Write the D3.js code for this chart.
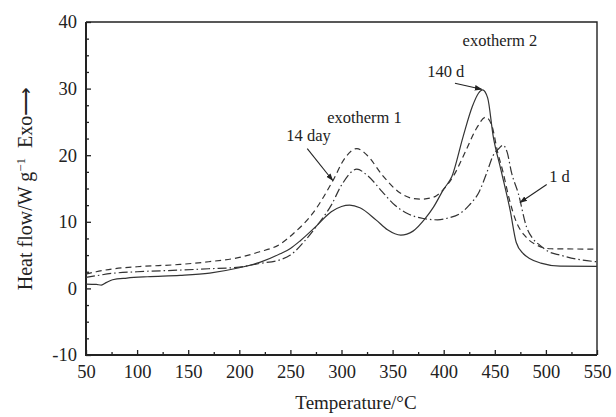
<!DOCTYPE html>
<html>
<head>
<meta charset="utf-8">
<script src="https://cdn.jsdelivr.net/npm/d3@7"></script>
<style>
  body { margin: 0; background: #fff; }
  svg text { font-family: "Liberation Serif", "Times New Roman", serif; fill: #222; }
</style>
</head>
<body>
<div id="chart"></div>
<script>
// ---- data ----
const xTicks = [50, 100, 150, 200, 250, 300, 350, 400, 450, 500, 550];
const yTicks = [-10, 0, 10, 20, 30, 40];

// 140 d (solid)
const temp140 = [50, 60, 65, 70, 76, 90, 110, 142, 171, 200, 220, 240, 250, 260, 275, 290, 300, 308, 318, 334, 345, 358, 370, 382, 390, 400, 408, 419, 428, 434, 438, 443, 448.5, 456, 465, 471, 478, 484, 495, 514, 550];
const flow140 = [0.65, 0.6, 0.5, 0.9, 1.3, 1.55, 1.75, 1.95, 2.3, 3.1, 3.9, 5.2, 6.0, 7.2, 9.3, 11.5, 12.3, 12.5, 12.1, 10.25, 8.8, 8.0, 8.6, 10.5, 12.2, 14.9, 16.8, 22.8, 27.3, 29.3, 29.8, 28.6, 22.8, 17.8, 11.75, 6.9, 5.2, 4.5, 3.8, 3.35, 3.3];

// 14 day (dashed)
const temp14 = [50, 60, 75, 100, 142, 170, 200, 220, 240, 253, 272, 292, 303, 315, 325, 340, 355, 370, 378, 390, 400, 410, 422, 432, 441, 447, 453, 458, 464, 471, 480, 491, 505, 550];
const flow14 = [2.15, 2.5, 2.9, 3.25, 3.6, 4.0, 4.65, 5.5, 6.65, 8.25, 11.3, 16.3, 19.5, 21.0, 20.0, 17.0, 14.6, 13.5, 13.4, 13.7, 14.9, 17.0, 20.8, 24.0, 25.7, 24.5, 20.3, 17.5, 13.5, 10.0, 7.8, 6.5, 5.95, 5.9];

// 1 d (dash-dot)
const temp1 = [50, 60, 75, 100, 142, 170, 200, 220, 240, 250, 265, 275.6, 290, 300, 315, 325, 340, 350, 365, 380, 394, 405, 416, 425, 435, 442, 448.5, 454, 458, 462, 466.5, 473, 481, 487, 494, 503, 514, 530, 550];
const flow1 = [1.65, 1.9, 2.25, 2.5, 2.75, 2.95, 3.2, 3.75, 4.3, 5.0, 7.3, 9.35, 12.5, 15.5, 17.9, 17.0, 14.5, 12.8, 11.2, 10.5, 10.3, 10.6, 11.25, 12.5, 14.6, 17.3, 20.0, 21.0, 21.5, 20.5, 17.3, 14.25, 9.25, 7.5, 6.5, 5.5, 5.0, 4.4, 4.0];

const seriesList = [
  { name: "140 d", t: temp140, v: flow140, dash: null },
  { name: "14 day", t: temp14, v: flow14, dash: "6,4" },
  { name: "1 d", t: temp1, v: flow1, dash: "9,3,1.5,3" }
];

// annotations in data units: label centre, arrow from -> to
const notes = [
  { text: "exotherm 2", x: 455, y: 36.4 },
  { text: "140 d", x: 402, y: 31.7, from: [411, 30.8], to: [437.2, 29.9] },
  { text: "exotherm 1", x: 322.5, y: 24.8 },
  { text: "14 day", x: 267.7, y: 22.1, from: [266.5, 21.0], to: [291.4, 16.2] },
  { text: "1 d", x: 513.3, y: 16.0, from: [500.8, 15.6], to: [474.7, 12.9] }
];

// ---- layout ----
const W = 616, H = 417;
const margin = { top: 22, right: 19, bottom: 62, left: 86 };
const width = W - margin.left - margin.right;
const height = H - margin.top - margin.bottom;

const svg = d3.select("#chart").append("svg")
  .attr("width", W).attr("height", H);

svg.append("defs").append("marker")
  .attr("id", "arrow")
  .attr("viewBox", "0 0 10 10")
  .attr("refX", 9).attr("refY", 5)
  .attr("markerWidth", 7).attr("markerHeight", 7)
  .attr("orient", "auto")
  .append("path")
  .attr("d", "M0,1.5 L10,5 L0,8.5 Z")
  .attr("fill", "#222");

const g = svg.append("g")
  .attr("transform", `translate(${margin.left},${margin.top})`);

const x = d3.scaleLinear().domain([50, 550]).range([0, width]);
const y = d3.scaleLinear().domain([-10, 40]).range([height, 0]);

// minor ticks
const xMinor = d3.range(75, 550, 50);
const yMinor = d3.range(-10, 40, 2.5).filter(d => d % 10 !== 0);

const xMinorG = g.append("g")
  .attr("transform", `translate(0,${height})`)
  .call(d3.axisBottom(x).tickValues(xMinor).tickSize(-3).tickFormat(""));
const yMinorG = g.append("g")
  .call(d3.axisLeft(y).tickValues(yMinor).tickSize(-3).tickFormat(""));

const xAxisG = g.append("g")
  .attr("transform", `translate(0,${height})`)
  .call(d3.axisBottom(x).tickValues(xTicks).tickSize(-5).tickPadding(10).tickFormat(d => String(d)));
const yAxisG = g.append("g")
  .call(d3.axisLeft(y).tickValues(yTicks).tickSize(-5).tickPadding(9).tickFormat(d => String(d)));

[xMinorG, yMinorG, xAxisG, yAxisG].forEach(a => {
  a.select(".domain").remove();
  a.selectAll(".tick line").attr("stroke", "#222").attr("stroke-width", 1.3);
});
xAxisG.selectAll("text").attr("font-size", 18.5).attr("fill", "#222");
yAxisG.selectAll("text").attr("font-size", 18.5).attr("fill", "#222");

// frame
g.append("path")
  .attr("d", `M0,0 H${width} V${height}`)
  .attr("fill", "none").attr("stroke", "#222").attr("stroke-width", 1.4);
g.append("path")
  .attr("d", `M0,0 V${height} H${width}`)
  .attr("fill", "none").attr("stroke", "#222").attr("stroke-width", 2);

// curves
const line = d3.line()
  .x(d => x(d[0]))
  .y(d => y(d[1]))
  .curve(d3.curveMonotoneX);

g.selectAll(".curve")
  .data(seriesList)
  .enter()
  .append("path")
  .attr("class", "curve")
  .attr("fill", "none")
  .attr("stroke", "#333")
  .attr("stroke-width", 1.2)
  .attr("stroke-dasharray", d => d.dash)
  .attr("d", d => line(d.t.map((t, i) => [t, d.v[i]])));

// annotations
notes.forEach(n => {
  g.append("text")
    .attr("x", x(n.x)).attr("y", y(n.y))
    .attr("text-anchor", "middle")
    .attr("font-size", 16.5)
    .text(n.text);
  if (n.from) {
    g.append("line")
      .attr("x1", x(n.from[0])).attr("y1", y(n.from[1]))
      .attr("x2", x(n.to[0])).attr("y2", y(n.to[1]))
      .attr("stroke", "#222").attr("stroke-width", 1.1)
      .attr("marker-end", "url(#arrow)");
  }
});

// axis titles
svg.append("text")
  .attr("x", 356).attr("y", 409)
  .attr("text-anchor", "middle")
  .attr("font-size", 19)
  .text("Temperature/°C");

const yt = svg.append("text")
  .attr("transform", `translate(32,${margin.top + height / 2}) rotate(-90)`)
  .attr("text-anchor", "middle")
  .attr("font-size", 20);
yt.append("tspan").text("Heat flow/W g");
yt.append("tspan").attr("dy", -7).attr("font-size", 13).text("−1");
yt.append("tspan").attr("dy", 7).text("\u00a0\u00a0Exo⟶");
</script>
</body>
</html>
